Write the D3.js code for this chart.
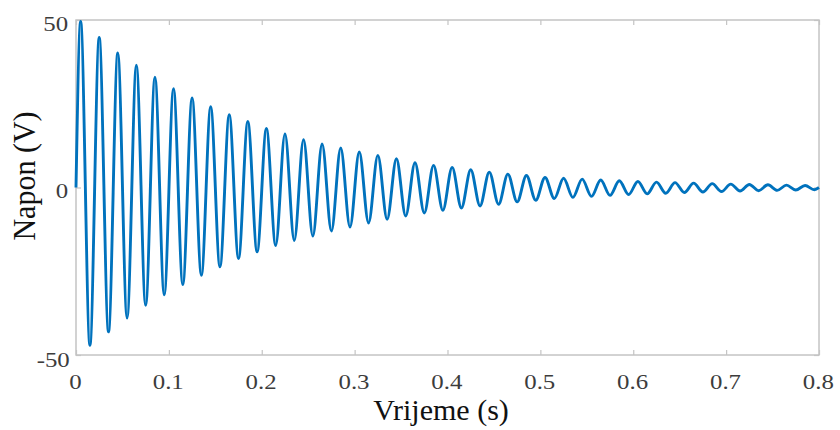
<!DOCTYPE html>
<html>
<head>
<meta charset="utf-8">
<script src="https://cdn.jsdelivr.net/npm/d3@7"></script>
<style>
  html, body { margin: 0; padding: 0; background: #fff; }
  svg { display: block; }
</style>
</head>
<body>
<svg id="chart" width="840" height="430" font-family="Liberation Serif"></svg>
<script>
// ---- data ----
const xTicks = [0, 0.1, 0.2, 0.3, 0.4, 0.5, 0.6, 0.7, 0.8];
const yTicks = [-50, 0, 50];
const xLabel = "Vrijeme (s)";
const yLabel = "Napon (V)";

// start / end of the trace
const startPoint = [0, 0];
const endPoint = [0.8, 0];

// positive peaks (time s, voltage V)
const peakTimes = [0.005,0.025,0.045,0.065,0.085,0.105,0.125,0.145,0.165,0.185,
                   0.205,0.225,0.245,0.265,0.285,0.305,0.325,0.345,0.365,0.385,
                   0.405,0.425,0.445,0.465,0.485,0.505,0.525,0.545,0.565,0.585,
                   0.605,0.625,0.645,0.665,0.685,0.705,0.725,0.745,0.765,0.785];
const peakValues = [49.6,44.8,40.2,36.5,32.9,29.5,26.7,24.1,21.7,19.7,
                    17.6,16.0,14.3,13.0,11.8,10.6,9.6,8.6,7.4,6.6,
                    6.0,5.3,4.6,4.0,3.6,3.0,2.75,2.5,2.25,2.0,
                    1.8,1.6,1.45,1.3,1.15,1.0,0.9,0.8,0.7,0.6];

// negative troughs (time s, voltage V)
const troughTimes = [0.015,0.035,0.055,0.075,0.095,0.115,0.135,0.155,0.175,0.195,
                     0.215,0.235,0.255,0.275,0.295,0.315,0.335,0.355,0.375,0.395,
                     0.415,0.435,0.455,0.475,0.495,0.515,0.535,0.555,0.575,0.595,
                     0.615,0.635,0.655,0.675,0.695,0.715,0.735,0.755,0.775,0.795];
const troughValues = [-47.1,-43.1,-39.0,-35.2,-32.0,-29.0,-26.2,-23.7,-21.2,-19.2,
                      -17.3,-15.8,-14.5,-13.0,-11.8,-10.6,-9.5,-8.5,-7.6,-6.8,
                      -6.1,-5.5,-5.0,-4.3,-3.8,-3.3,-2.95,-2.65,-2.35,-2.1,
                      -1.9,-1.7,-1.5,-1.35,-1.2,-1.05,-0.95,-0.85,-0.75,-0.65];

// ---- build the trace ----
const pts = [startPoint];
peakTimes.forEach((t, i) => {
  pts.push([t, peakValues[i]]);
  pts.push([troughTimes[i], troughValues[i]]);
});
pts.push(endPoint);
pts.sort((a, b) => a[0] - b[0]);

const svg = d3.select("#chart");
const m = { left: 76, right: 819, top: 20, bottom: 355 };

const x = d3.scaleLinear().domain([0, 0.8]).range([m.left, m.right]);
const y = d3.scaleLinear().domain([-50, 50]).range([m.bottom, m.top]);

const boxColor = "#c4c4c4";
const tickTextColor = "#3c3c3c";
const FONT = "Liberation Serif";
const tickStretch = 1.13;   // reference tick digits are slightly wider than tall

// box
svg.append("rect")
  .attr("x", m.left).attr("y", m.top)
  .attr("width", m.right - m.left).attr("height", m.bottom - m.top)
  .attr("fill", "none").attr("stroke", boxColor).attr("stroke-width", 1.5);

// bottom axis (inward ticks)
const xAxisB = d3.axisBottom(x).tickValues(xTicks).tickSizeInner(-5).tickSizeOuter(0)
  .tickFormat(d => d === 0 ? "0" : d3.format(".1f")(d));
const gxb = svg.append("g").attr("transform", `translate(0,${m.bottom})`).call(xAxisB)
  .attr("font-family", FONT).attr("font-size", 22);
gxb.select(".domain").remove();
gxb.selectAll(".tick line").attr("stroke", boxColor).attr("stroke-width", 1.2);
gxb.selectAll(".tick text")
  .attr("font-family", FONT)
  .attr("fill", tickTextColor).attr("font-size", 22)
  .attr("x", -1).attr("y", 34).attr("dy", 0)
  .attr("transform", `scale(${tickStretch},1)`);

// top ticks
const xAxisT = d3.axisTop(x).tickValues(xTicks).tickSizeInner(-5).tickSizeOuter(0).tickFormat("");
const gxt = svg.append("g").attr("transform", `translate(0,${m.top})`).call(xAxisT);
gxt.select(".domain").remove();
gxt.selectAll(".tick line").attr("stroke", boxColor).attr("stroke-width", 1.2);

// left axis
const yAxisL = d3.axisLeft(y).tickValues(yTicks).tickSizeInner(-5).tickSizeOuter(0)
  .tickFormat(d => String(d));
const gyl = svg.append("g").attr("transform", `translate(${m.left},0)`).call(yAxisL)
  .attr("font-family", FONT).attr("font-size", 22);
gyl.select(".domain").remove();
gyl.selectAll(".tick line").attr("stroke", boxColor).attr("stroke-width", 1.2);
gyl.selectAll(".tick text")
  .attr("font-family", FONT)
  .attr("fill", tickTextColor).attr("font-size", 22)
  .attr("x", d => d === -50 ? -5.5 : -7)
  .attr("dy", d => d === -50 ? 11.5 : (d === 0 ? 9.5 : 10))
  .attr("transform", `scale(${tickStretch},1)`);

// right ticks
const yAxisR = d3.axisRight(y).tickValues(yTicks).tickSizeInner(-5).tickSizeOuter(0).tickFormat("");
const gyr = svg.append("g").attr("transform", `translate(${m.right},0)`).call(yAxisR);
gyr.select(".domain").remove();
gyr.selectAll(".tick line").attr("stroke", boxColor).attr("stroke-width", 1.2);

// trace
const line = d3.line()
  .x(d => x(d[0])).y(d => y(d[1]))
  .curve(d3.curveMonotoneX);
svg.append("path")
  .datum(pts)
  .attr("d", line)
  .attr("fill", "none")
  .attr("stroke", "#0072BD")
  .attr("stroke-width", 2.9)
  .attr("stroke-linejoin", "round");

// axis labels
svg.append("text")
  .attr("transform", "translate(441,420)")
  .attr("text-anchor", "middle")
  .attr("font-family", FONT)
  .attr("font-size", 30).attr("fill", "#111")
  .text(xLabel);

svg.append("text")
  .attr("transform", "translate(35,176) scale(1.06,1) rotate(-90)")
  .attr("text-anchor", "middle")
  .attr("font-family", FONT)
  .attr("font-size", 30).attr("fill", "#111")
  .text(yLabel);
</script>
</body>
</html>
